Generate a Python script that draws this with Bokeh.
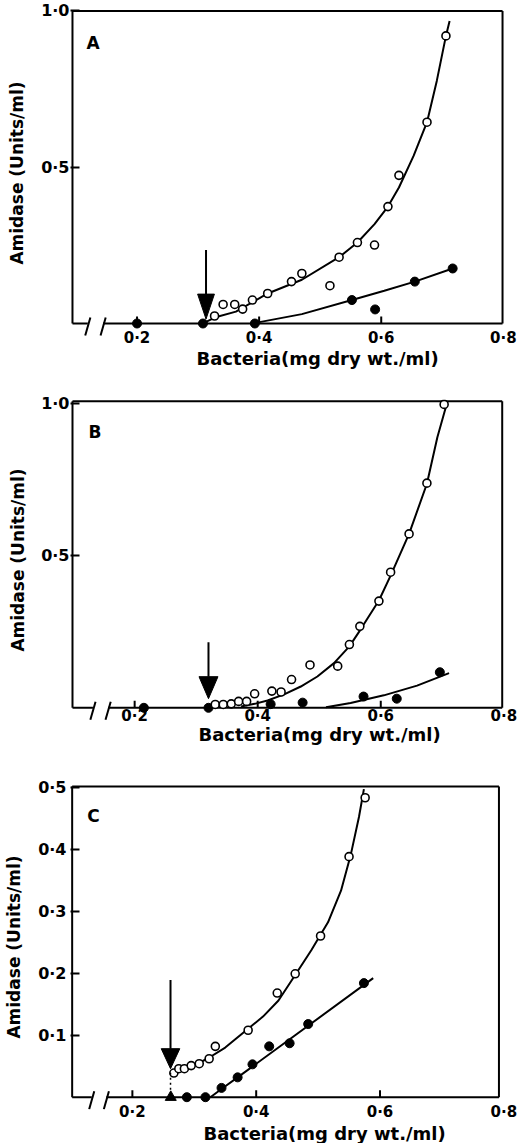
from bokeh.plotting import figure
from bokeh.layouts import column
from bokeh.models import LinearAxis, FixedTicker, Label, Title
from bokeh.embed import file_html
from bokeh.resources import INLINE

FONT = "DejaVu Sans"

# shared axis texts
x_ticks = [0.2, 0.4, 0.6, 0.8]
x_tick_labels = ["0·2", "0·4", "0·6", "0·8"]
x_inner_ticks = [0.2, 0.4, 0.6]
x_title = "Bacteria(mg dry wt./ml)"
y_title = "Amidase (Units/ml)"

# ---------------- Panel A ----------------
a_open_x = [0.327, 0.341, 0.360, 0.373, 0.389, 0.414, 0.453, 0.470, 0.516, 0.531, 0.561, 0.589, 0.611, 0.629, 0.675, 0.706]
a_open_y = [0.024, 0.061, 0.061, 0.046, 0.075, 0.096, 0.134, 0.160, 0.121, 0.212, 0.259, 0.251, 0.374, 0.474, 0.644, 0.920]
a_fill_x = [0.200, 0.308, 0.393, 0.552, 0.590, 0.655, 0.717]
a_fill_y = [0.000, 0.000, 0.000, 0.075, 0.045, 0.134, 0.176]
a_curve_open_x = [0.313, 0.330, 0.362, 0.414, 0.470, 0.531, 0.561, 0.589, 0.611, 0.629, 0.653, 0.675, 0.691, 0.706, 0.712]
a_curve_open_y = [0.005, 0.021, 0.038, 0.096, 0.140, 0.212, 0.259, 0.318, 0.374, 0.435, 0.536, 0.644, 0.776, 0.920, 0.968]
a_curve_fill_x = [0.394, 0.470, 0.552, 0.605, 0.655, 0.717]
a_curve_fill_y = [0.002, 0.030, 0.075, 0.105, 0.134, 0.176]
a_y_ticks = [0.5, 1.0]
a_y_tick_labels = ["0·5", "1·0"]
a_arrow = dict(x=0.313, top=0.235, tip=0.014)

# ---------------- Panel B ----------------
b_open_x = [0.331, 0.344, 0.357, 0.369, 0.382, 0.395, 0.423, 0.438, 0.455, 0.485, 0.530, 0.549, 0.566, 0.597, 0.616, 0.646, 0.675, 0.703]
b_open_y = [0.011, 0.011, 0.013, 0.021, 0.021, 0.046, 0.055, 0.052, 0.093, 0.141, 0.137, 0.208, 0.268, 0.351, 0.446, 0.572, 0.739, 0.998]
b_fill_x = [0.215, 0.320, 0.421, 0.473, 0.572, 0.626, 0.696]
b_fill_y = [0.000, 0.000, 0.012, 0.017, 0.037, 0.030, 0.117]
b_curve_open_x = [0.373, 0.395, 0.416, 0.443, 0.470, 0.497, 0.524, 0.549, 0.566, 0.597, 0.616, 0.646, 0.675, 0.692, 0.708]
b_curve_open_y = [0.004, 0.013, 0.024, 0.044, 0.070, 0.103, 0.147, 0.202, 0.254, 0.353, 0.435, 0.572, 0.737, 0.890, 1.005]
b_curve_fill_x = [0.511, 0.551, 0.605, 0.659, 0.711]
b_curve_fill_y = [0.002, 0.016, 0.041, 0.073, 0.114]
b_y_ticks = [0.5, 1.0]
b_y_tick_labels = ["0·5", "1·0"]
b_arrow = dict(x=0.320, top=0.216, tip=0.030)

# ---------------- Panel C ----------------
c_open_x = [0.267, 0.275, 0.284, 0.295, 0.308, 0.324, 0.334, 0.387, 0.434, 0.463, 0.504, 0.550, 0.576]
c_open_y = [0.039, 0.046, 0.046, 0.051, 0.054, 0.062, 0.082, 0.108, 0.168, 0.199, 0.260, 0.388, 0.483]
c_fill_x = [0.288, 0.318, 0.344, 0.370, 0.394, 0.421, 0.454, 0.484, 0.574]
c_fill_y = [0.000, 0.000, 0.015, 0.032, 0.053, 0.082, 0.087, 0.118, 0.184]
c_tri_x = [0.262]
c_tri_y = [0.000]
c_curve_open_x = [0.263, 0.290, 0.321, 0.350, 0.384, 0.411, 0.436, 0.463, 0.489, 0.516, 0.537, 0.553, 0.566, 0.574]
c_curve_open_y = [0.036, 0.047, 0.062, 0.080, 0.108, 0.130, 0.156, 0.197, 0.237, 0.282, 0.333, 0.392, 0.452, 0.497]
c_curve_fill_x = [0.326, 0.345, 0.370, 0.589]
c_curve_fill_y = [0.000, 0.014, 0.032, 0.192]
c_y_ticks = [0.1, 0.2, 0.3, 0.4, 0.5]
c_y_tick_labels = ["0·1", "0·2", "0·3", "0·4", "0·5"]
c_arrow = dict(x=0.2616, top=0.189, tip=0.046)
c_dash_y = [0.004, 0.040]


def make_panel(letter, g, open_xy, fill_xy, curves, y_ticks, y_tick_labels, arrow,
               tri=None, dash=None):
    H = g["h"]
    W = 521
    fl, fr, ft, fb = g["frame"]          # frame edges, figure pixels
    xa, sx, y0, sy = g["xa"], g["sx"], g["y0"], g["sy"]

    def X(px):
        return 0.2 + (px - xa) / sx

    def Y(py):
        return (y0 - py) / sy

    xr = (X(fl), X(fr))
    yr = (Y(fb), Y(ft))
    bl, br, bt = X(g["box"][0]), X(g["box"][1]), Y(g["box"][2])

    p = figure(width=W, height=H, x_range=xr, y_range=yr,
               output_backend="svg", toolbar_location=None,
               min_border_left=fl, min_border_right=W - fr,
               min_border_top=ft, min_border_bottom=H - fb,
               background_fill_color="white", border_fill_color="white",
               outline_line_color=None, x_axis_type=None, y_axis_type=None)
    p.grid.visible = False

    ya = LinearAxis(ticker=FixedTicker(ticks=y_ticks, minor_ticks=[]),
                    major_label_overrides=dict(zip(y_ticks, y_tick_labels)),
                    axis_line_color=None,
                    major_tick_in=g["ytick_in"], major_tick_out=0, major_tick_line_width=2,
                    minor_tick_line_color=None, minor_tick_in=0, minor_tick_out=0,
                    major_label_text_font=FONT, major_label_text_font_style="bold",
                    major_label_text_font_size="16px", major_label_text_color="black",
                    major_label_standoff=g["ystand"],
                    axis_label=y_title, axis_label_standoff=g["ylab_stand"],
                    axis_label_text_font=FONT, axis_label_text_font_style="bold",
                    axis_label_text_font_size="17px", axis_label_text_color="black")
    p.add_layout(ya, "left")
    xa_ = LinearAxis(ticker=FixedTicker(ticks=x_ticks, minor_ticks=[]),
                     major_label_overrides=dict(zip(x_ticks, x_tick_labels)),
                     axis_line_color=None, major_tick_line_color=None,
                     major_tick_in=0, major_tick_out=0,
                     minor_tick_line_color=None, minor_tick_in=0, minor_tick_out=0,
                     major_label_text_font=FONT, major_label_text_font_style="bold",
                     major_label_text_font_size="15px", major_label_text_color="black",
                     major_label_standoff=g["xstand"])
    p.add_layout(xa_, "below")

    p.add_layout(Title(text=x_title, align="left", offset=g["xtitle_off"],
                       standoff=g["xtitle_stand"],
                       text_font=FONT, text_font_style="bold", text_font_size="18px",
                       text_color="black"), "below")

    # box: left, top, right and broken bottom line
    b0, b1 = X(g["brk"][0]), X(g["brk"][1])
    p.segment(x0=[bl, bl, br, bl, b1], y0=[0, bt, bt, 0, 0],
              x1=[bl, br, br, b0, br], y1=[bt, bt, 0, 0, 0],
              line_color="black", line_width=2)
    # axis break slashes
    hw, dn, up = 2.6 / sx, 12 / sy, 6 / sy
    p.segment(x0=[b0 - hw, b1 - hw], y0=[-dn, -dn], x1=[b0 + hw, b1 + hw], y1=[up, up],
              line_color="black", line_width=2)
    # inner x ticks
    tl = 7 / sy
    p.segment(x0=x_inner_ticks, y0=[0] * len(x_inner_ticks), x1=x_inner_ticks,
              y1=[tl] * len(x_inner_ticks), line_color="black", line_width=2)

    # curves
    for cx, cy in curves:
        p.line(cx, cy, line_color="black", line_width=2)

    # points
    p.scatter(fill_xy[0], fill_xy[1], marker="circle", size=9,
              fill_color="black", line_color="black")
    if tri is not None:
        p.scatter(tri[0], tri[1], marker="triangle", size=11,
                  fill_color="black", line_color="black")
    p.scatter(open_xy[0], open_xy[1], marker="circle", size=8,
              fill_color="white", line_color="black", line_width=1.6)

    # threshold arrow
    hwp, hhp = g["head"]
    base = arrow["tip"] + hhp / sy
    p.segment(x0=[arrow["x"]], y0=[arrow["top"]], x1=[arrow["x"]], y1=[base],
              line_color="black", line_width=2)
    p.patch([arrow["x"] - hwp / 2 / sx, arrow["x"] + hwp / 2 / sx, arrow["x"]],
            [base, base, arrow["tip"]], fill_color="black", line_color="black")
    if dash is not None:
        p.line([arrow["x"], arrow["x"]], dash, line_color="black", line_width=1.5,
               line_dash="2 3")

    # panel letter
    p.add_layout(Label(x=bl, x_offset=g["letter"][0], y=bt, y_offset=-g["letter"][1],
                       text=letter, text_font=FONT, text_font_style="bold",
                       text_font_size="17px", text_align="left",
                       text_baseline="alphabetic", text_color="black"))
    return p


geomA = dict(h=378, frame=(66, 506, 9, 336), xa=133.3, sx=617.5, y0=323.0, sy=312.6,
             box=(68, 503, 10.4), brk=(83.5, 99.0), head=(17, 25),
             ystand=1, xstand=-8, ytick_in=9, xtitle_off=126, xtitle_stand=-7,
             ylab_stand=11, letter=(14, 32))
geomB = dict(h=382, frame=(69, 505, 21, 342), xa=133.3, sx=616.7, y0=329.3, sy=304.0,
             box=(71, 501.7, 22.7), brk=(91.5, 106.7), head=(19, 22),
             ystand=1, xstand=-14, ytick_in=9, xtitle_off=128, xtitle_stand=-12,
             ylab_stand=10, letter=(16, 31))
geomC = dict(h=383, frame=(70, 515, 24, 349), xa=133.3, sx=633.3, y0=336.7, sy=620.0,
             box=(71.7, 508.3, 26), brk=(91.7, 106.7), head=(19, 20),
             ystand=4, xstand=-7, ytick_in=9, xtitle_off=133, xtitle_stand=-5,
             ylab_stand=11, letter=(15, 29))

pA = make_panel("A", geomA, (a_open_x, a_open_y), (a_fill_x, a_fill_y),
                [(a_curve_open_x, a_curve_open_y), (a_curve_fill_x, a_curve_fill_y)],
                a_y_ticks, a_y_tick_labels, a_arrow)
pB = make_panel("B", geomB, (b_open_x, b_open_y), (b_fill_x, b_fill_y),
                [(b_curve_open_x, b_curve_open_y), (b_curve_fill_x, b_curve_fill_y)],
                b_y_ticks, b_y_tick_labels, b_arrow)
pC = make_panel("C", geomC, (c_open_x, c_open_y), (c_fill_x, c_fill_y),
                [(c_curve_open_x, c_curve_open_y), (c_curve_fill_x, c_curve_fill_y)],
                c_y_ticks, c_y_tick_labels, c_arrow,
                tri=(c_tri_x, c_tri_y), dash=c_dash_y)

layout = column(pA, pB, pC, spacing=0)
open("out.html", "w").write(file_html(layout, INLINE))
